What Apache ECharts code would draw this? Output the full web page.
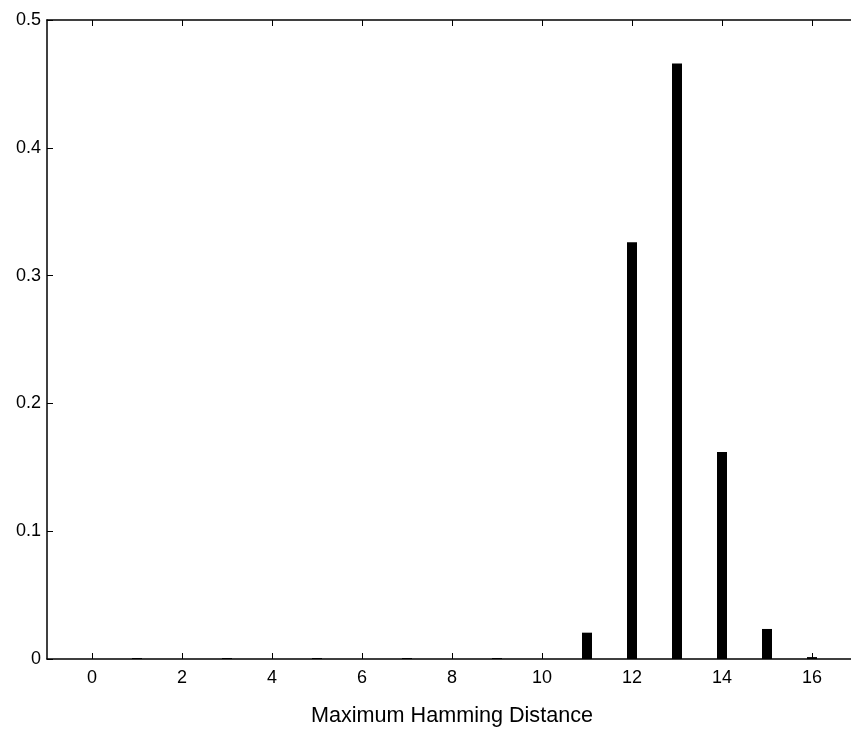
<!DOCTYPE html>
<html>
<head>
<meta charset="utf-8">
<script src="https://cdn.jsdelivr.net/npm/echarts@6/dist/echarts.min.js"></script>
<style>
  html, body { margin: 0; padding: 0; background: #fff; }
  #chart { width: 851px; height: 729px; }
</style>
</head>
<body>
<div id="chart"></div>
<script>
// 最大汉明距离分布
const distances = [0, 1, 2, 3, 4, 5, 6, 7, 8, 9, 10, 11, 12, 13, 14, 15, 16]
const fractions = [0, 0.0008, 0, 0.0008, 0, 0.0008, 0, 0.0008, 0, 0.0008, 0, 0.0206, 0.326, 0.466, 0.162, 0.0235, 0.0015]
const xTicks = [0, 2, 4, 6, 8, 10, 12, 14, 16]
const yTicks = [0, 0.1, 0.2, 0.3, 0.4, 0.5]

const myChart = echarts.init(document.getElementById('chart'))
const fontFamily = 'Liberation Sans, Arial, sans-serif'

const axisLine = { show: true, onZero: false, lineStyle: { color: '#000', width: 1.5 } }
const tick = { inside: true, length: 6, lineStyle: { color: '#000', width: 1 } }

let option = {
	animation: false,
	backgroundColor: '#fff',
	grid: {
		left: 47,
		top: 20,
		width: 810,
		height: 639,
		outerBoundsMode: 'none',
		containLabel: false,
	},
	xAxis: [
		{
			type: 'value',
			min: -1,
			max: 17,
			name: 'Maximum Hamming Distance',
			nameLocation: 'middle',
			nameGap: 46,
			nameTextStyle: { color: '#000', fontSize: 21.6, fontFamily: fontFamily },
			axisLine: axisLine,
			axisTick: Object.assign({ customValues: xTicks }, tick),
			axisLabel: { customValues: xTicks, color: '#000', fontSize: 18, fontFamily: fontFamily, margin: 10 },
			splitLine: { show: false },
		},
		{
			type: 'value',
			position: 'top',
			min: -1,
			max: 17,
			axisLine: axisLine,
			axisTick: Object.assign({ customValues: xTicks }, tick),
			axisLabel: { show: false },
			splitLine: { show: false },
		},
	],
	yAxis: [
		{
			type: 'value',
			min: 0,
			max: 0.5,
			axisLine: axisLine,
			axisTick: Object.assign({ customValues: yTicks }, tick),
			axisLabel: {
				customValues: yTicks,
				color: '#000',
				fontSize: 18,
				fontFamily: fontFamily,
				margin: 6,
				formatter: (v) => (v === 0 ? '0' : v.toFixed(1)),
			},
			splitLine: { show: false },
		},
		{
			type: 'value',
			position: 'right',
			min: 0,
			max: 0.5,
			axisLine: axisLine,
			axisTick: Object.assign({ customValues: yTicks }, tick),
			axisLabel: { show: false },
			splitLine: { show: false },
		},
	],
	series: [
		{
			type: 'bar',
			barWidth: 10,
			itemStyle: { color: '#000' },
			data: distances.map((d, i) => [d, fractions[i]]),
		},
	],
}
myChart.setOption(option)
</script>
</body>
</html>
